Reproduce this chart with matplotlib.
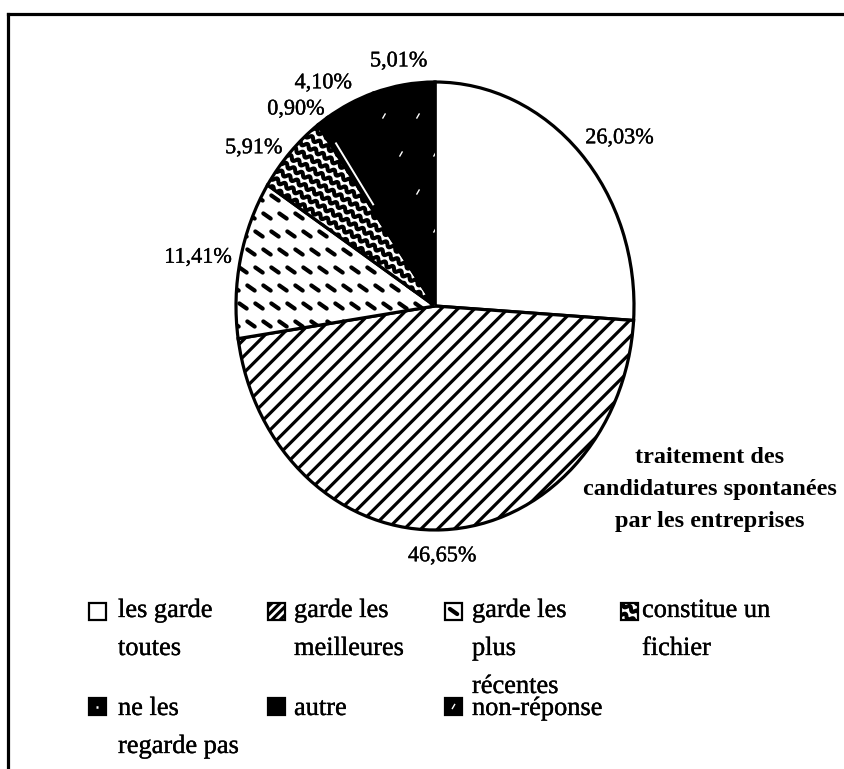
import numpy as np
import matplotlib
matplotlib.use("Agg")
import matplotlib.pyplot as plt
import matplotlib.patheffects as pe
from matplotlib.collections import LineCollection
from matplotlib.patches import Rectangle

# ---------------- data ----------------
categories = ["les garde\ntoutes", "garde les\nmeilleures", "garde les\nplus\nrécentes",
              "constitue un\nfichier", "ne les\nregarde pas", "autre", "non-réponse"]
values = [26.03, 46.65, 11.41, 5.91, 0.90, 4.10, 5.01]
pct_labels = ["26,03%", "46,65%", "11,41%", "5,91%", "0,90%", "4,10%", "5,01%"]
title_lines = ["traitement des", "candidatures spontanées", "par les entreprises"]

# ---------------- style ----------------
fills = ["white", "white", "white", "white", "black", "black", "black"]
textures = [None, "hatch", "dash", "wave", "line", None, "speck"]
SERIF = "Liberation Serif"
INK = [pe.withStroke(linewidth=0.25, foreground="black")]

W, H = 845, 769
plt.rcParams["hatch.linewidth"] = 2.3
fig = plt.figure(figsize=(W / 100, H / 100), dpi=100)
fig.patch.set_facecolor("white")

CX, CY, RX, RY = 435, 306, 199, 224
M = 1.04
pie_ax = fig.add_axes([(CX - RX * M) / W, 1 - (CY + RY * M) / H, 2 * RX * M / W, 2 * RY * M / H])
wedges, _ = pie_ax.pie(values, startangle=90, counterclock=False, colors=fills, radius=1.0,
                       wedgeprops=dict(edgecolor="black", linewidth=2.3))
pie_ax.set_aspect("auto")
pie_ax.set_xlim(-M, M)
pie_ax.set_ylim(-M, M)
pie_ax.axis("off")
for w, t in zip(wedges, textures):
    if t == "hatch":
        w.set_hatch("//")

ov = fig.add_axes([0, 0, 1, 1])
ov.set_xlim(0, W)
ov.set_ylim(H, 0)
ov.axis("off")


def to_ov(x, y):
    d = pie_ax.transData.transform((x, y))
    return ov.transData.inverted().transform(d)


pc = to_ov(0, 0)
prx = to_ov(1, 0)[0] - pc[0]
pry = pc[1] - to_ov(0, 1)[1]
pie_bbox = (pc[0] - prx, pc[1] - pry, pc[0] + prx, pc[1] + pry)


def dash_texture(bbox, dx, dy, length, angle):
    x0, y0, x1, y1 = bbox
    cx, cy = (x0 + x1) / 2, (y0 + y1) / 2
    a = np.deg2rad(angle)
    ux, uy = np.cos(a) * length / 2, np.sin(a) * length / 2
    segs = []
    nj = int((y1 - y0) / dy / 2) + 2
    ni = int((x1 - x0) / dx / 2) + 2
    for j in range(-nj, nj + 1):
        off = (j % 2) * dx / 2
        y = cy + j * dy
        for i in range(-ni, ni + 1):
            x = cx + i * dx + off
            segs.append([(x - ux, y - uy), (x + ux, y + uy)])
    return segs


def wave_texture(bbox, spacing, amp, period, angle):
    x0, y0, x1, y1 = bbox
    cx, cy = (x0 + x1) / 2, (y0 + y1) / 2
    a = np.deg2rad(angle)
    u = np.array([np.cos(a), np.sin(a)])
    n = np.array([-np.sin(a), np.cos(a)])
    half = np.hypot(x1 - x0, y1 - y0) / 2 + spacing
    t = np.arange(-half, half, 0.7)
    lines = []
    for k in np.arange(-half, half, spacing):
        off = k + amp * np.sin(2 * np.pi * t / period)
        lines.append(np.c_[cx + t * u[0] + off * n[0], cy + t * u[1] + off * n[1]])
    return lines


def add_texture(kind, clip, bbox, legend=False):
    lc = None
    if kind == "dash":
        lc = LineCollection(dash_texture(bbox, 16, 18, 9, 35), colors="black",
                            linewidths=3.0, capstyle="round")
    elif kind == "wave":
        lc = LineCollection(wave_texture(bbox, 9, 2.0, 9, 30), colors="black", linewidths=2.9)
    elif kind == "speck":
        lc = LineCollection(dash_texture(bbox, 34, 38, 6, -60), colors="white", linewidths=1.0)
    elif kind == "line" and legend:
        cx, cy = (bbox[0] + bbox[2]) / 2, (bbox[1] + bbox[3]) / 2
        lc = LineCollection([[(cx - 1, cy), (cx + 1, cy)]], colors="white", linewidths=1.8)
    if lc is not None:
        lc.set_zorder(3)
        ov.add_collection(lc, autolim=False)
        lc.set_clip_path(clip)


for w, t in zip(wedges, textures):
    add_texture(t, w, pie_bbox)

# white line inside the thin slice
w_thin = wedges[textures.index("line")]
mid = np.deg2rad((w_thin.theta1 + w_thin.theta2) / 2)
pie_ax.plot([0.55 * np.cos(mid), 0.88 * np.cos(mid)], [0.55 * np.sin(mid), 0.88 * np.sin(mid)],
            color="white", lw=1.4, zorder=5)

# percentage labels
lab_r = [1.19, 1.12, 1.21, 1.15, 1.12, 1.14, 1.105]
lab_dang = [-4.3, -0.5, 2.0, 5.7, 4.2, 4.1, 0.5]
for w, txt, r, da in zip(wedges, pct_labels, lab_r, lab_dang):
    m = np.deg2rad((w.theta1 + w.theta2) / 2 + da)
    pie_ax.text(r * np.cos(m), r * np.sin(m), txt, ha="center", va="center",
                fontsize=16, family=SERIF, clip_on=False, path_effects=INK)

# title
for k, line in enumerate(title_lines):
    ov.text(710, 463 + k * 32, line, ha="center", va="baseline", fontsize=17.5,
            fontweight="bold", family=SERIF)

# legend
sq_x = [89, 268, 445, 621]
tx_x = [118, 294, 472, 642]
sq_top = [603, 698]
base_y = [617, 715]
SQ = 17
for i, lab in enumerate(categories):
    row, col = divmod(i, 4)
    x, y = sq_x[col], sq_top[row]
    rect = Rectangle((x, y), SQ, SQ, facecolor=fills[i], edgecolor="black", lw=1.6, zorder=2)
    if textures[i] == "hatch":
        rect.set_hatch("////")
    ov.add_patch(rect)
    add_texture(textures[i], rect, (x, y, x + SQ, y + SQ), legend=True)
    for j, line in enumerate(lab.split("\n")):
        ov.text(tx_x[col], base_y[row] + j * 38, line, ha="left", va="baseline",
                fontsize=19, family=SERIF, path_effects=INK)

# frame
ov.plot([8, 8], [H + 5, 13.5], color="black", lw=2.3, clip_on=False, solid_capstyle="projecting")
ov.plot([8, W + 5], [13.5, 13.5], color="black", lw=2.3, clip_on=False, solid_capstyle="projecting")

fig.savefig("out.png", dpi=100)
